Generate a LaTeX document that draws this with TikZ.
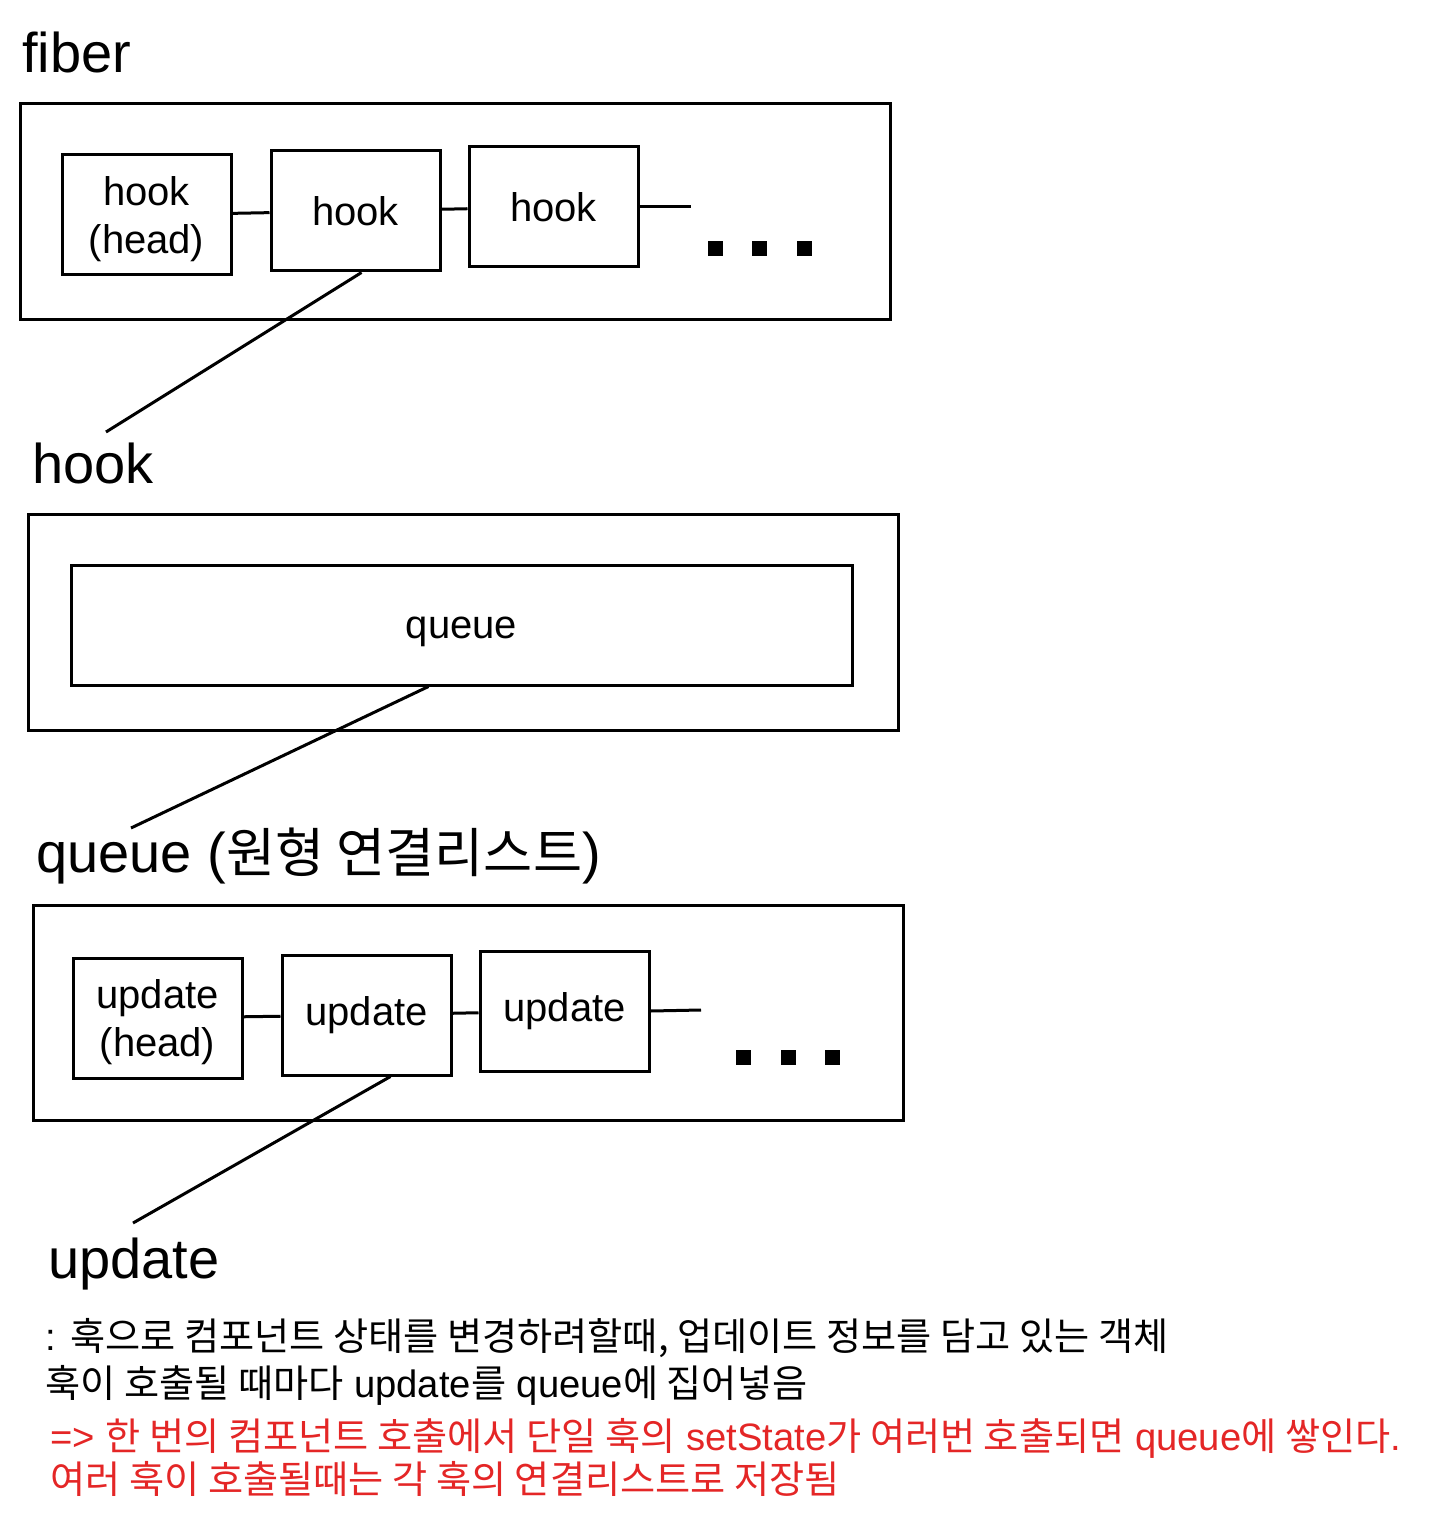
\documentclass[tikz,border=0pt]{standalone}
\usepackage{fontspec}
\setmainfont{Liberation Sans}
\newfontfamily\cjk{Noto Sans CJK KR}
\usetikzlibrary{positioning}
\definecolor{notered}{RGB}{228,38,38}
\newcommand{\topstrut}{\rule{0pt}{18.5pt}}

\tikzstyle{every node}=[inner sep=0pt]
\tikzstyle{box}=[draw=black, line width=1.5pt, minimum width=84.5pt, minimum height=60pt, align=center, font=\fontsize{20}{24}\selectfont]
\tikzstyle{frame}=[draw=black, line width=1.5pt]
\tikzstyle{title}=[anchor=base west, font=\fontsize{28}{32}\selectfont]
\tikzstyle{note}=[anchor=base west, font=\fontsize{19.1}{23}\selectfont]
\tikzstyle{link}=[line width=1.5pt]

\begin{document}
\begin{tikzpicture}[x=0.5pt,y=-0.5pt]
\useasboundingbox (0,0) rectangle (1442,1524);

% fiber
\node [title] (tfiber) at (22,73) {fiber};
\draw [frame] (20,104) rectangle (890,320);

\node [box] (h1) at (146.5,215) {\topstrut hook\\(head)};
\node [box,right of=h1,node distance=104.5pt,yshift=2pt] (h2) {hook};
\node [box,right of=h2,node distance=99pt,yshift=2pt] (h3) {hook};
\coordinate (h4) at (691,207);
\foreach \x in {708,752,797} \fill (\x,241) rectangle +(15,15);

\path [link] (h1) edge (h2) (h2) edge (h3) (h3.east) edge (h4);

% hook
\coordinate (hk) at (106,432);
\draw [link] ([xshift=3pt]h2.south) -- (hk);
\node [title] (thook) at (32,483) {hook};
\draw [frame] (28,514) rectangle (898,730);
\node [box,minimum width=390.5pt,text height=17pt,text depth=4pt] (q) at (461.5,625) {queue};

% queue
\coordinate (qk) at (131,828);
\draw [link] ([xshift=-16.5pt]q.south) -- (qk);
\node [title] (tqueue) at (36,872) {queue ({\cjk\fontsize{26.7}{32}\selectfont 원형 연결리스트})};
\draw [frame] (33,905) rectangle (903,1120);

\node [box] (u1) at (157.5,1018) {\topstrut update\\(head)};
\node [box,right of=u1,node distance=104.5pt,yshift=1.5pt] (u2) {update};
\node [box,right of=u2,node distance=99pt,yshift=2pt] (u3) {update};
\coordinate (u4) at (701,1010);
\foreach \x in {736,781,825} \fill (\x,1050) rectangle +(15,15);

\path [link] (u1) edge (u2) (u2) edge (u3) (u3.east) edge (u4);

% update
\coordinate (uk) at (133,1223);
\draw [link] ([xshift=12pt]u2.south) -- (uk);
\node [title] (tupdate) at (48,1278) {update};

\node [note] (n1) at (45,1350) {: {\cjk 훅으로 컴포넌트 상태를 변경하려할때, 업데이트 정보를 담고 있는 객체}};
\node [note] (n2) at (45,1397) {{\cjk 훅이 호출될 때마다} update{\cjk 를} queue{\cjk 에 집어넣음}};
\node [note,text=notered] (n3) at (50,1450) {=> {\cjk 한 번의 컴포넌트 호출에서 단일 훅의} setState{\cjk 가 여러번 호출되면} queue{\cjk 에 쌓인다}.};
\node [note,text=notered] (n4) at (50,1493) {{\cjk 여러 훅이 호출될때는 각 훅의 연결리스트로 저장됨}};
\end{tikzpicture}
\end{document}
